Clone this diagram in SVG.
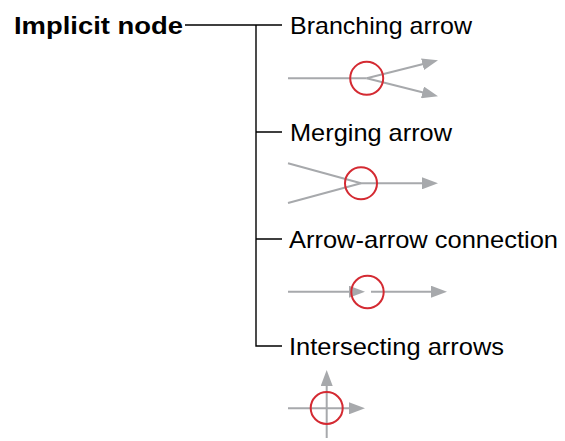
<svg xmlns="http://www.w3.org/2000/svg" width="565" height="441" viewBox="0 0 565 441">
  <style>
    .lbl { font-family: "Liberation Sans", Arial, sans-serif; font-size: 24px; fill: #000; }
    .bold { font-weight: bold; }
    .tree { stroke: #000; stroke-width: 1.4; fill: none; }
    .arr { stroke: #a7a9ac; stroke-width: 2; fill: none; }
    .arrh { stroke: #a7a9ac; stroke-width: 2; fill: none; marker-end: url(#ah); }
    .node { stroke: #d42a32; stroke-width: 2; fill: none; }
  </style>
  <defs>
    <marker id="ah" viewBox="0 0 16 12" refX="10" refY="6" markerWidth="16" markerHeight="12" markerUnits="userSpaceOnUse" orient="auto">
      <path d="M0,0 L16,6 L0,12 z" fill="#a7a9ac"/>
    </marker>
  </defs>

  <g id="root">
    <text class="lbl bold" x="14" y="33.5" textLength="169" lengthAdjust="spacingAndGlyphs">Implicit node</text>
  </g>

  <g id="connectors">
    <path class="tree" d="M185,25 H282 M256,25 V346 H282 M256,132 H282 M256,239 H282"/>
  </g>

  <g id="branching">
    <text class="lbl" x="290" y="33.5" textLength="182" lengthAdjust="spacingAndGlyphs">Branching arrow</text>
    <line class="arr" x1="288" y1="78.3" x2="366.7" y2="78.3"/>
    <line class="arrh" x1="366.7" y1="78.3" x2="432.2" y2="61.8"/>
    <line class="arrh" x1="366.7" y1="78.3" x2="432.2" y2="94.8"/>
    <circle class="node" cx="366.7" cy="78.3" r="16.5"/>
  </g>

  <g id="merging">
    <text class="lbl" x="290" y="140.5" textLength="162" lengthAdjust="spacingAndGlyphs">Merging arrow</text>
    <line class="arr" x1="288" y1="163.3" x2="361" y2="183.3"/>
    <line class="arr" x1="288" y1="203" x2="361" y2="183.3"/>
    <line class="arrh" x1="361" y1="183.3" x2="432" y2="183.3"/>
    <circle class="node" cx="361" cy="183.3" r="16"/>
  </g>

  <g id="arrow-arrow">
    <text class="lbl" x="289" y="247.5" textLength="269" lengthAdjust="spacingAndGlyphs">Arrow-arrow connection</text>
    <line class="arrh" x1="288" y1="291.7" x2="359" y2="291.7"/>
    <line class="arrh" x1="371" y1="291.7" x2="441" y2="291.7"/>
    <circle class="node" cx="367.5" cy="292" r="16.2"/>
  </g>

  <g id="intersecting">
    <text class="lbl" x="289" y="354.5" textLength="215" lengthAdjust="spacingAndGlyphs">Intersecting arrows</text>
    <line class="arrh" x1="288" y1="408.3" x2="359" y2="408.3"/>
    <line class="arrh" x1="326.7" y1="438" x2="326.7" y2="376"/>
    <circle class="node" cx="326.7" cy="408" r="16"/>
  </g>
</svg>
